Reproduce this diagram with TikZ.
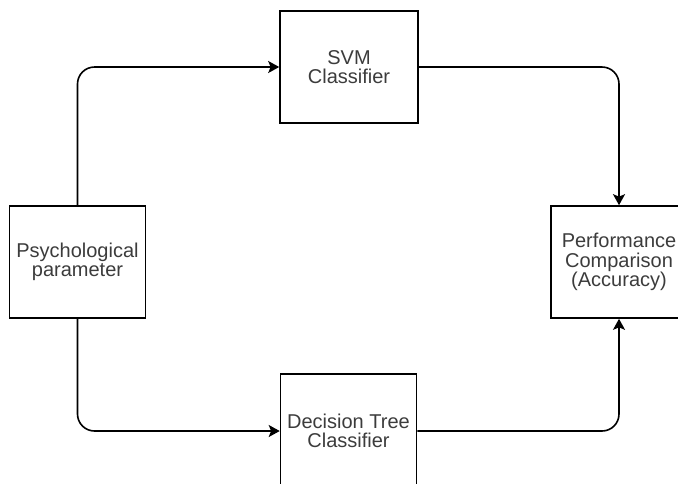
\documentclass[tikz,border=0pt]{standalone}
\usepackage{fontspec}
\setmainfont{Liberation Sans}
\usepackage{tikz}
\usetikzlibrary{arrows.meta,positioning}
\usepackage{xcolor}
\definecolor{boxtext}{RGB}{60,60,60}
\tikzstyle{arrow} = [line width=0.8pt,-{Stealth[length=5.5pt,width=6pt,inset=1.2pt]},rounded corners=8.5pt]
\tikzstyle{stagebox} = [rectangle, minimum width=68pt, minimum height=56pt, text centered, align=center, draw=black, line width=0.8pt, text=boxtext, font=\fontsize{10}{9.75}\selectfont]

\begin{document}
\begin{tikzpicture}[x=0.5pt,y=-0.5pt]
\useasboundingbox (0,0) rectangle (678,483);

% Input
\node[stagebox] (psych) at (77.5,262) {Psychological\\parameter};

% Classifiers
\node[stagebox, minimum width=69pt, minimum height=56pt] (svm) at (349,67) {SVM\\Classifier};
\node[stagebox, minimum width=67.5pt, minimum height=57pt] (tree) at (348.5,431) {Decision Tree\\Classifier};

% Output
\node[stagebox] (perf) at (619,262) {Performance\\Comparison\\(Accuracy)};

% Arrows
\draw[arrow] (psych.north) |- (svm.west);
\draw[arrow] (psych.south) |- (tree.west);
\draw[arrow] (svm.east) -| (perf.north);
\draw[arrow] (tree.east) -| (perf.south);
\end{tikzpicture}
\end{document}
